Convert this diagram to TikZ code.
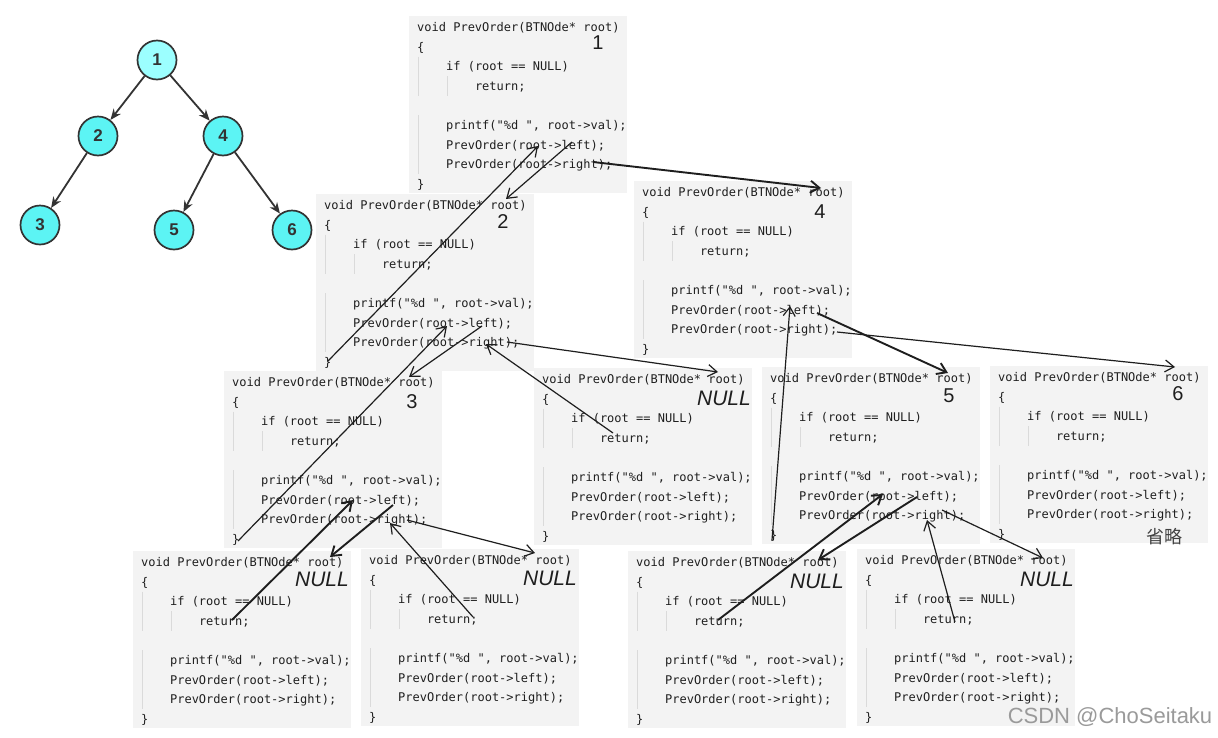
\documentclass[tikz,border=0pt]{standalone}
\usepackage{fontspec}
\setmainfont{Liberation Sans}
\setmonofont{DejaVu Sans Mono}
\newfontfamily\cjkfont{Noto Sans CJK SC}
\usetikzlibrary{arrows.meta,calc}
\definecolor{codebg}{HTML}{F3F3F3}
\definecolor{codefg}{HTML}{1F1F1F}
\definecolor{guidec}{HTML}{DADADA}
\definecolor{nodeA}{HTML}{9CFFFF}
\definecolor{nodeB}{HTML}{5CF4F4}
\definecolor{edgec}{HTML}{333333}
\definecolor{penc}{HTML}{1E1E1E}
\definecolor{wmark}{HTML}{9A9A9A}
\tikzset{
  cbg/.style={anchor=north west,fill=codebg,draw=none,minimum width=218pt,minimum height=177pt,inner sep=0pt},
  cl/.style={anchor=base west,inner sep=0pt,font=\ttfamily\fontsize{12}{14}\selectfont,text=codefg},
  guide/.style={draw=guidec,line width=0.8pt},
  call/.style={draw=penc,line width=1.2pt,-{Straight Barb[length=9pt,width=12pt]}},
  callthick/.style={call,line width=1.9pt},
  tnode/.style={circle,draw=edgec,line width=1.7pt,minimum size=39pt,inner sep=0pt,fill=nodeB,font=\bfseries\fontsize{17}{19}\selectfont,text=edgec},
  tnodeA/.style={tnode,fill=nodeA},
  tedge/.style={draw=edgec,line width=1.8pt,-{Stealth[length=11pt,width=9pt]}},
  hand/.style={inner sep=0pt,text=penc,font=\fontsize{20}{22}\selectfont},
  nullt/.style={inner sep=0pt,text=penc,font=\itshape\fontsize{21}{23}\selectfont},
}
\newcommand\mycodebox[3]{%
  \node[cbg] (#1) at (#2,#3) {};
  \draw[guide] ($(#1.north west)+(9,40.5)$) -- ($(#1.north west)+(9,79.5)$);
  \draw[guide] ($(#1.north west)+(38,60)$) -- ($(#1.north west)+(38,79.5)$);
  \draw[guide] ($(#1.north west)+(9,99)$) -- ($(#1.north west)+(9,158)$);
  \node[cl] (#1-l0) at ($(#1.north west)+(8,15.4)$) {void PrevOrder(BTNOde* root)};
  \node[cl] (#1-l1) at ($(#1.north west)+(8,35.0)$) {\{};
  \node[cl] (#1-l2) at ($(#1.north west)+(36.9,54.6)$) {if (root == NULL)};
  \node[cl] (#1-l3) at ($(#1.north west)+(65.8,74.2)$) {return;};
  \node[cl] (#1-l5) at ($(#1.north west)+(36.9,113.4)$) {printf("\%d ", root->val);};
  \node[cl] (#1-l6) at ($(#1.north west)+(36.9,133.0)$) {PrevOrder(root->left);};
  \node[cl] (#1-l7) at ($(#1.north west)+(36.9,152.6)$) {PrevOrder(root->right);};
  \node[cl] (#1-l8) at ($(#1.north west)+(8,172.2)$) {\}};
}
\newcommand\pt[4]{\coordinate (#1) at ($(#2.north west)+(#3,#4)$);}
\begin{document}
\begin{tikzpicture}[x=1pt,y=-1pt]
\fill[white] (0,0) rectangle (1218,737);
\useasboundingbox (0,0) rectangle (1218,737);

% tree
\node[tnodeA] (t1) at (157,60) {1};
\node[tnode] (t2) at (98,136) {2};
\node[tnode] (t4) at (223,136) {4};
\node[tnode] (t3) at (40,225) {3};
\node[tnode] (t5) at (174,230) {5};
\node[tnode] (t6) at (292,230) {6};
\draw[tedge] (t1) -- (t2);
\draw[tedge] (t1) -- (t4);
\draw[tedge] (t2) -- (t3);
\draw[tedge] (t4) -- (t5);
\draw[tedge] (t4) -- (t6);

% code boxes
\mycodebox{b1}{409}{16}
\mycodebox{b2}{316}{194}
\mycodebox{b4}{634}{181}
\mycodebox{b3}{224}{371}
\mycodebox{b2r}{534}{368}
\mycodebox{b5}{762}{367}
\mycodebox{b6}{990}{366}
\mycodebox{b3l}{133}{551}
\mycodebox{b3r}{361}{549}
\mycodebox{b5l}{628}{551}
\mycodebox{b5r}{857}{549}

% handwritten labels
\node[hand] (h1) at (598,43) {1};
\node[hand] (h2) at (503,222) {2};
\node[hand] (h4) at (820,212) {4};
\node[hand] (h3) at (412,402) {3};
\node[hand] (h5) at (949,396) {5};
\node[hand] (h6) at (1178,394) {6};
\node[nullt] (n2r) at (724,398) {NULL};
\node[nullt] (n3l) at (322,579) {NULL};
\node[nullt] (n3r) at (550,578) {NULL};
\node[nullt] (n5l) at (817,581) {NULL};
\node[nullt] (n5r) at (1047,579) {NULL};
\node[inner sep=0pt,text=penc!85,font=\cjkfont\fontsize{18}{20}\selectfont] (omit) at (1164,537) {省略};

% arrow end points
\pt{As}{b1}{163}{126} \pt{Ae}{b2}{190}{5}
\pt{Bs}{b2}{12}{167} \pt{Be}{b1}{129}{130}
\pt{Cs}{b1}{184}{146} \pt{Ce}{b4}{187}{7}
\pt{Ds}{b2}{166}{132} \pt{De}{b3}{185}{6}
\pt{Es}{b3}{14}{170} \pt{Ee}{b2}{131}{132}
\pt{Fs}{b2}{191}{148} \pt{Fe}{b2r}{184}{4}
\pt{Rs}{b2r}{79}{65} \pt{Re}{b2}{170}{150}
\pt{Gs}{b3}{169}{134} \pt{Ge}{b3l}{197}{6}
\pt{Hs}{b3l}{99}{69} \pt{He}{b3}{129}{129}
\pt{Is}{b3}{183}{149} \pt{Ie}{b3r}{174}{4}
\pt{Js}{b3r}{112}{68} \pt{Je}{b3}{166}{152}
\pt{Ks}{b4}{183}{132} \pt{Ke}{b5}{186}{6}
\pt{Qs}{b4}{203}{151} \pt{Qe}{b6}{185}{1}
\pt{Ls}{b5}{10}{173} \pt{Le}{b4}{156}{125}
\pt{Ms}{b5}{155}{130} \pt{Me}{b5l}{190}{9}
\pt{Ns}{b5l}{90}{69} \pt{Ne}{b5}{121}{127}
\pt{Os}{b5}{180}{143} \pt{Oe}{b5r}{186}{9}
\pt{Ps}{b5r}{98}{73} \pt{Pe}{b5}{165}{153}

% call / return arrows
\draw[call] (As) -- (Ae);
\draw[call] (Bs) -- (Be);
\draw[callthick] (Cs) -- (Ce);
\draw[call] (Ds) -- (De);
\draw[call] (Es) -- (Ee);
\draw[call] (Fs) -- (Fe);
\draw[call] (Rs) -- (Re);
\draw[callthick] (Gs) -- (Ge);
\draw[callthick] (Hs) -- (He);
\draw[call] (Is) -- (Ie);
\draw[call] (Js) -- (Je);
\draw[callthick] (Ks) -- (Ke);
\draw[call] (Qs) -- (Qe);
\draw[call] (Ls) -- (Le);
\draw[callthick] (Ms) -- (Me);
\draw[callthick] (Ns) -- (Ne);
\draw[call] (Os) -- (Oe);
\draw[call] (Ps) -- (Pe);

% watermark
\node[inner sep=0pt,text=wmark,font=\fontsize{22}{24}\selectfont] (wm) at (1110,717) {CSDN @ChoSeitaku};
\end{tikzpicture}
\end{document}
